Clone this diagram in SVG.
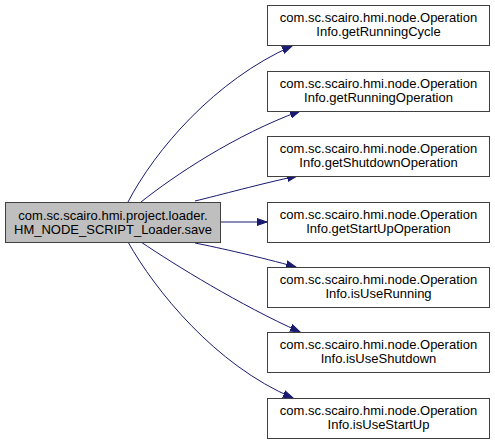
<svg xmlns="http://www.w3.org/2000/svg" width="495" height="444" viewBox="0 0 495 444">
<defs>
<style>
.n rect{fill:#fff;stroke:#404040;stroke-width:1}
.n.root rect{fill:#bfbfbf}
.n text{font-family:"Liberation Sans",Arial,sans-serif;font-size:13px;fill:#000;text-anchor:middle}
.e path{fill:none;stroke:#191970;stroke-width:1;marker-end:url(#ah)}
</style>
<marker id="ah" markerUnits="userSpaceOnUse" markerWidth="12" markerHeight="10" refX="10" refY="4" orient="auto" viewBox="0 0 12 8">
<path d="M0,0.5 L10,4 L0,7.5 Z" fill="#191970" stroke="#191970" stroke-width="1"/>
</marker>
</defs>
<rect width="495" height="444" fill="#fff"/>
<g id="connectors" class="e">
<path d="M128,202 C155,150 215,80 292,46"/>
<path d="M141,202 C175,175 235,135 300,111"/>
<path d="M195,201 C220,195 260,184 297,176"/>
<path d="M220,222 L267,222"/>
<path d="M195,243 C220,248 260,257 296,267"/>
<path d="M141,242 C175,265 240,305 300,332"/>
<path d="M128,242 C155,290 215,365 293,398"/>
</g>
<g id="node_root" class="n root">
<rect x="5.5" y="202.5" width="215" height="40"/>
<text x="113" y="220">com.sc.scairo.hmi.project.loader.</text>
<text x="113" y="234">HM_NODE_SCRIPT_Loader.save</text>
</g>
<g id="node1" class="n">
<rect x="267.5" y="5.5" width="222" height="40"/>
<text x="378.5" y="22">com.sc.scairo.hmi.node.Operation</text>
<text x="378.5" y="36">Info.getRunningCycle</text>
</g>
<g id="node2" class="n">
<rect x="267.5" y="71.5" width="222" height="40"/>
<text x="378.5" y="88">com.sc.scairo.hmi.node.Operation</text>
<text x="378.5" y="102">Info.getRunningOperation</text>
</g>
<g id="node3" class="n">
<rect x="267.5" y="136.5" width="222" height="40"/>
<text x="378.5" y="153">com.sc.scairo.hmi.node.Operation</text>
<text x="378.5" y="167">Info.getShutdownOperation</text>
</g>
<g id="node4" class="n">
<rect x="267.5" y="202.5" width="222" height="40"/>
<text x="378.5" y="219">com.sc.scairo.hmi.node.Operation</text>
<text x="378.5" y="233">Info.getStartUpOperation</text>
</g>
<g id="node5" class="n">
<rect x="267.5" y="267.5" width="222" height="40"/>
<text x="378.5" y="284">com.sc.scairo.hmi.node.Operation</text>
<text x="378.5" y="298">Info.isUseRunning</text>
</g>
<g id="node6" class="n">
<rect x="267.5" y="332.5" width="222" height="40"/>
<text x="378.5" y="349">com.sc.scairo.hmi.node.Operation</text>
<text x="378.5" y="363">Info.isUseShutdown</text>
</g>
<g id="node7" class="n">
<rect x="267.5" y="398.5" width="222" height="40"/>
<text x="378.5" y="415">com.sc.scairo.hmi.node.Operation</text>
<text x="378.5" y="429">Info.isUseStartUp</text>
</g>
</svg>
